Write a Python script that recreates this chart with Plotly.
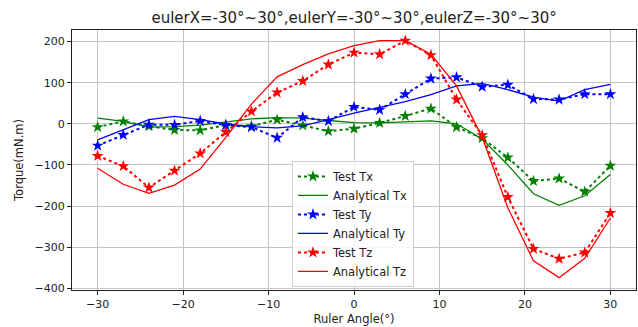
import plotly.graph_objects as go

angles = [-30, -27, -24, -21, -18, -15, -12, -9, -6, -3, 0, 3, 6, 9, 12, 15, 18, 21, 24, 27, 30]

test_tx = [-8, 6, -6, -15, -16, -3, -6, 10, -4, -18, -12, 2, 19, 37, -8, -35, -82, -139, -133, -165, -102]
anal_tx = [14, 6, -8, -7, -3, 5, 12, 15, 14, 8, 3, 2, 4, 7, 0, -37, -100, -170, -198, -175, -123]
test_ty = [-53, -27, -2, -2.5, 7, -3, -8, -34, 16, 6.5, 41, 34, 72, 110, 113, 90, 95, 60, 59, 72, 72]
anal_ty = [-39, -15, 10, 18, 10, 0, -7, -10, -5, 10, 26, 40, 54, 71, 92, 98, 83, 65, 55, 83, 96]
test_tz = [-78, -103, -155, -114, -72, -20, 30, 76, 104, 144, 173, 169, 202, 167, 59, -28, -178, -304, -328, -313, -217]
anal_tz = [-108, -147, -169, -149, -110, -33, 48, 114, 144, 170, 190, 202, 202, 169, 92, -33, -204, -333, -374, -327, -229]

title = "eulerX=-30°~30°,eulerY=-30°~30°,eulerZ=-30°~30°"
x_title = "Ruler Angle(°)"
y_title = "Torque(mN.m)"

series = [
    ("Test Tx", test_tx, "green", True),
    ("Analytical Tx", anal_tx, "green", False),
    ("Test Ty", test_ty, "blue", True),
    ("Analytical Ty", anal_ty, "blue", False),
    ("Test Tz", test_tz, "red", True),
    ("Analytical Tz", anal_tz, "red", False),
]

fig = go.Figure()
for name, vals, color, is_test in series:
    if is_test:
        fig.add_trace(go.Scatter(
            x=angles, y=vals, name=name, mode="lines+markers",
            line=dict(color=color, width=2, dash="dot"),
            marker=dict(symbol="star", size=9, color=color),
        ))
    else:
        fig.add_trace(go.Scatter(
            x=angles, y=vals, name=name, mode="lines",
            line=dict(color=color, width=1.3),
        ))

axis_common = dict(
    showline=True, linecolor="#222", linewidth=1.2, mirror=True,
    showgrid=True, gridcolor="#c4c4c4", gridwidth=1,
    ticks="outside", ticklen=4, tickcolor="#222",
    tickfont=dict(size=11, color="#222"),
    zeroline=False,
)

fig.update_layout(
    width=638, height=327,
    margin=dict(l=72, r=2, t=30, b=37),
    paper_bgcolor="white", plot_bgcolor="white",
    font=dict(family="DejaVu Sans", color="#222"),
    title=dict(text=title, x=0.555, xanchor="center", y=0.945, yanchor="middle",
               font=dict(size=15, color="#222")),
    xaxis=dict(range=[-33, 33], tickvals=[-30, -20, -10, 0, 10, 20, 30],
               title=dict(text=x_title, font=dict(size=11.5), standoff=4), **axis_common),
    yaxis=dict(range=[-404, 228], tickvals=[200, 100, 0, -100, -200, -300, -400],
               title=dict(text=y_title, font=dict(size=11.5), standoff=8), **axis_common),
    legend=dict(x=0.39, y=0.012, xanchor="left", yanchor="bottom",
                bgcolor="rgba(255,255,255,0.85)", bordercolor="#d0d0d0", borderwidth=1,
                font=dict(size=11.5, color="#222"), tracegroupgap=0, itemwidth=30),
    showlegend=True,
)

fig.write_html("out.html", config={"displayModeBar": False},
               post_script="document.body.style.margin='0';")
